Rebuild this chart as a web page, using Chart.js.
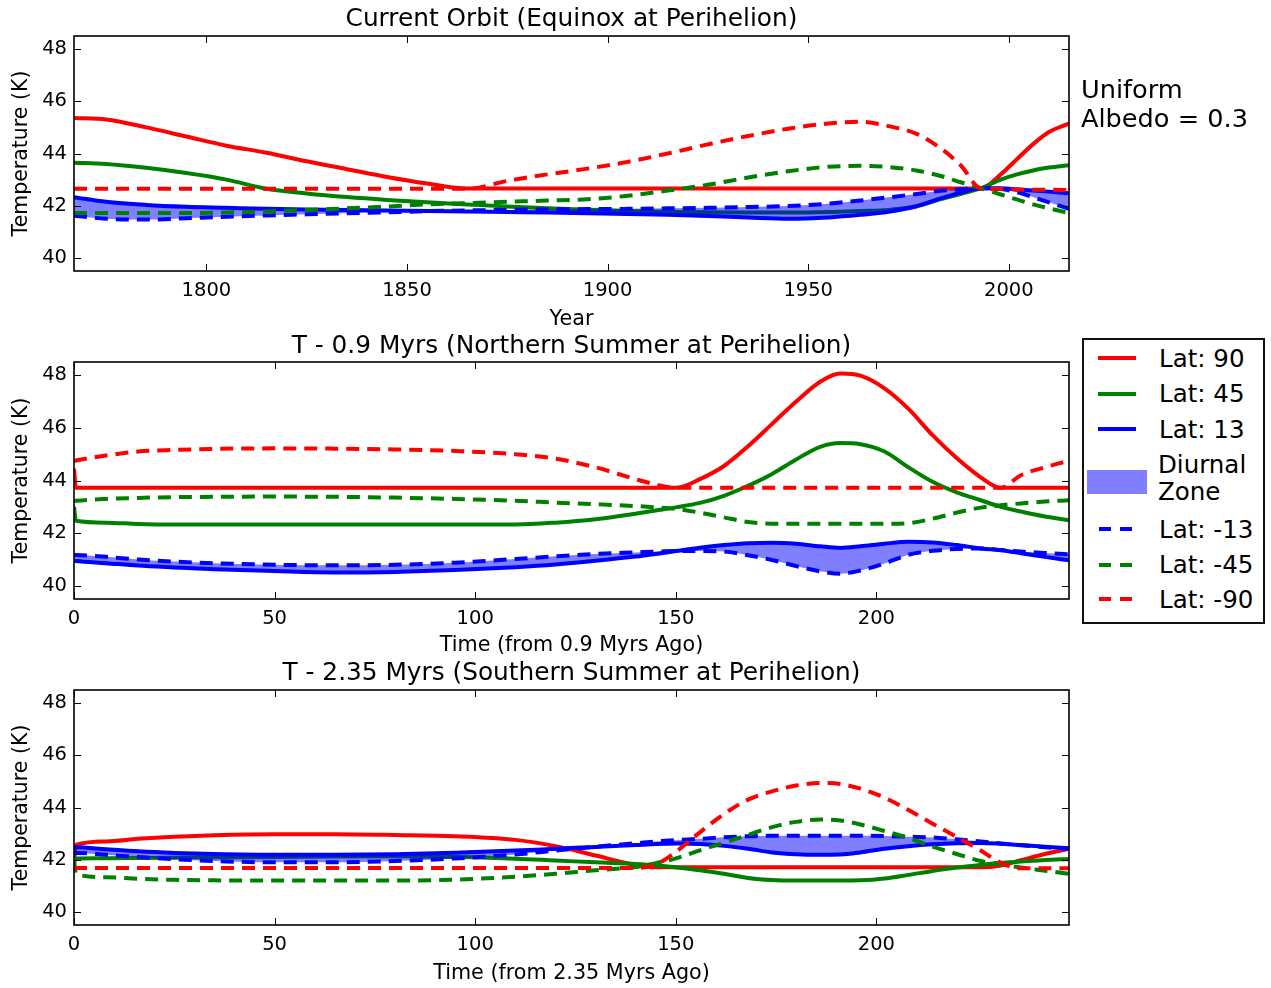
<!DOCTYPE html>
<html>
<head>
<meta charset="utf-8">
<script src="https://cdn.jsdelivr.net/npm/chart.js@4.4.1/dist/chart.umd.min.js"></script>
<style>
html,body{margin:0;padding:0;background:#fff;}
body{width:1271px;height:988px;position:relative;overflow:hidden;font-family:'DejaVu Sans',sans-serif;color:#000;}
canvas{position:absolute;left:0;}
.ttl{position:absolute;left:74px;width:995px;text-align:center;font-size:24.8px;line-height:28px;white-space:nowrap;}
.note{position:absolute;left:1081px;top:75px;font-size:25.6px;line-height:29px;white-space:nowrap;}
#legend{position:absolute;left:1082px;top:338px;width:183px;height:286px;box-sizing:border-box;border:2px solid #111;background:#fff;}
.lt{position:absolute;left:1159px;font-size:24.5px;line-height:28px;white-space:nowrap;}
.hl{position:absolute;height:4px;}
.patch{position:absolute;left:1087px;top:470px;width:60px;height:24px;background:rgba(0,0,255,0.5);}
</style>
</head>
<body>
<script>
// ---------- data ----------
const yTicks = [40, 42, 44, 46, 48];
const yearTicks = [1800, 1850, 1900, 1950, 2000];
const timeTicks = [0, 50, 100, 150, 200];

const seriesLabels = ['Lat: 90', 'Lat: 45', 'Lat: 13', 'Lat: -13', 'Lat: -45', 'Lat: -90'];

// Panel 1: Current Orbit
const yearGrid = [1767, 1775, 1785, 1795, 1805, 1815, 1825, 1835, 1845, 1855, 1865, 1875, 1885, 1895, 1905,
                  1915, 1925, 1935, 1945, 1955, 1963, 1970, 1977, 1983, 1988, 1993, 1998, 2002, 2006, 2010, 2015];
const p1Lat90  = [45.36, 45.3, 45.0, 44.65, 44.3, 44.03, 43.7, 43.4, 43.1, 42.85, 42.66, 42.66, 42.66, 42.66, 42.66,
                  42.66, 42.66, 42.66, 42.66, 42.66, 42.66, 42.66, 42.66, 42.66, 42.66, 42.66, 43.2, 43.78, 44.35, 44.82, 45.15];
const p1Lat45  = [43.65, 43.6, 43.45, 43.25, 43.0, 42.65, 42.47, 42.33, 42.22, 42.13, 42.05, 41.97, 41.9, 41.85, 41.8,
                  41.77, 41.75, 41.74, 41.74, 41.76, 41.8, 41.84, 41.98, 42.25, 42.45, 42.67, 43.0, 43.2, 43.35, 43.46, 43.55];
const p1Lat13  = [42.33, 42.15, 42.03, 41.96, 41.92, 41.88, 41.86, 41.84, 41.82, 41.8, 41.78, 41.76, 41.74, 41.71, 41.68,
                  41.65, 41.61, 41.55, 41.5, 41.55, 41.65, 41.77, 41.98, 42.28, 42.5, 42.67, 42.67, 42.63, 42.58, 42.54, 42.48];
const p1LatM13 = [41.62, 41.5, 41.47, 41.52, 41.58, 41.63, 41.67, 41.71, 41.75, 41.79, 41.82, 41.84, 41.86, 41.87, 41.88,
                  41.9, 41.92, 41.95, 41.99, 42.08, 42.2, 42.32, 42.45, 42.57, 42.63, 42.67, 42.64, 42.52, 42.33, 42.13, 41.88];
const p1LatM45 = [41.72, 41.72, 41.72, 41.72, 41.74, 41.78, 41.84, 41.9, 41.97, 42.05, 42.1, 42.15, 42.2, 42.25, 42.38,
                  42.58, 42.8, 43.08, 43.32, 43.49, 43.53, 43.48, 43.35, 43.14, 42.9, 42.67, 42.43, 42.24, 42.05, 41.9, 41.72];
const p1LatM90 = [42.65, 42.65, 42.65, 42.65, 42.65, 42.65, 42.65, 42.65, 42.65, 42.65, 42.65, 42.95, 43.2, 43.42, 43.68,
                  44.0, 44.35, 44.67, 44.95, 45.15, 45.22, 45.05, 44.75, 44.2, 43.55, 42.67, 42.64, 42.62, 42.61, 42.61, 42.6];

// Panels 2 and 3: time since epoch
const timeGrid = [0, 0.5, 8, 16, 25, 35, 50, 65, 80, 95, 110, 120, 130, 140, 145, 150, 156,
                  162, 168, 174, 180, 186, 191, 196, 202, 208, 214, 220, 226, 231, 236, 242, 248];

// Panel 2: T - 0.9 Myrs
const p2Lat90  = [44.45, 43.72, 43.72, 43.72, 43.72, 43.72, 43.72, 43.72, 43.72, 43.72, 43.72, 43.72, 43.72, 43.72, 43.72, 43.72, 44.05,
                  44.55, 45.3, 46.15, 47.0, 47.75, 48.06, 47.98, 47.5, 46.72, 45.72, 44.85, 44.12, 43.72, 43.72, 43.72, 43.72];
const p2Lat45  = [43.0, 42.47, 42.4, 42.35, 42.33, 42.33, 42.33, 42.33, 42.33, 42.33, 42.33, 42.4, 42.53, 42.74, 42.86, 42.98, 43.15,
                  43.42, 43.8, 44.25, 44.8, 45.28, 45.42, 45.38, 45.1, 44.5, 43.95, 43.55, 43.25, 43.0, 42.82, 42.63, 42.49];
const p2Lat13  = [40.95, 40.94, 40.86, 40.77, 40.7, 40.63, 40.56, 40.51, 40.53, 40.6, 40.71, 40.81, 40.95, 41.11, 41.21, 41.32, 41.45,
                  41.55, 41.62, 41.64, 41.6, 41.5, 41.44, 41.5, 41.6, 41.67, 41.65, 41.55, 41.42, 41.35, 41.24, 41.1, 40.97];
const p2LatM13 = [41.17, 41.17, 41.1, 41.0, 40.92, 40.86, 40.8, 40.78, 40.8, 40.88, 41.02, 41.12, 41.21, 41.27, 41.3, 41.32, 41.32,
                  41.3, 41.16, 40.98, 40.75, 40.55, 40.46, 40.58, 40.85, 41.18, 41.33, 41.4, 41.42, 41.36, 41.3, 41.25, 41.2];
const p2LatM45 = [43.22, 43.23, 43.3, 43.34, 43.37, 43.38, 43.39, 43.38, 43.35, 43.3, 43.23, 43.16, 43.1, 43.03, 42.98, 42.92, 42.78,
                  42.6, 42.42, 42.36, 42.36, 42.36, 42.36, 42.36, 42.36, 42.38, 42.55, 42.78, 42.97, 43.06, 43.13, 43.2, 43.25];
const p2LatM90 = [44.74, 44.76, 44.95, 45.1, 45.16, 45.2, 45.22, 45.21, 45.18, 45.12, 45.0, 44.83, 44.5, 44.05, 43.85, 43.72, 43.72,
                  43.72, 43.72, 43.72, 43.72, 43.72, 43.72, 43.72, 43.72, 43.72, 43.72, 43.72, 43.72, 43.72, 44.2, 44.5, 44.75];

// Panel 3: T - 2.35 Myrs
const p3Lat90  = [41.75, 42.57, 42.7, 42.8, 42.88, 42.94, 42.98, 42.98, 42.95, 42.9, 42.76, 42.52, 42.16, 41.8, 41.71, 41.71, 41.71,
                  41.71, 41.71, 41.71, 41.71, 41.71, 41.71, 41.71, 41.71, 41.71, 41.71, 41.71, 41.71, 41.78, 41.98, 42.22, 42.42];
const p3Lat45  = [42.05, 42.05, 42.06, 42.07, 42.08, 42.09, 42.1, 42.12, 42.13, 42.1, 42.04, 41.97, 41.9, 41.84, 41.79, 41.71, 41.6,
                  41.46, 41.3, 41.22, 41.2, 41.2, 41.2, 41.21, 41.28, 41.42, 41.57, 41.7, 41.8, 41.88, 41.93, 41.99, 42.03];
const p3Lat13  = [42.48, 42.48, 42.4, 42.32, 42.26, 42.22, 42.19, 42.19, 42.21, 42.27, 42.35, 42.42, 42.49, 42.56, 42.6, 42.62, 42.6,
                  42.53, 42.42, 42.28, 42.21, 42.19, 42.2, 42.28, 42.42, 42.52, 42.59, 42.63, 42.64, 42.61, 42.56, 42.5, 42.44];
const p3LatM13 = [42.26, 42.26, 42.19, 42.1, 42.02, 41.95, 41.9, 41.9, 41.95, 42.05, 42.2, 42.35, 42.5, 42.63, 42.7, 42.75, 42.8,
                  42.86, 42.9, 42.92, 42.92, 42.92, 42.92, 42.92, 42.91, 42.88, 42.85, 42.78, 42.7, 42.62, 42.55, 42.48, 42.41];
const p3LatM45 = [42.0, 41.45, 41.33, 41.27, 41.23, 41.21, 41.2, 41.2, 41.2, 41.24, 41.35, 41.46, 41.6, 41.72, 41.87, 42.05, 42.36,
                  42.65, 42.95, 43.25, 43.45, 43.54, 43.5, 43.35, 43.1, 42.83, 42.5, 42.22, 41.95, 41.82, 41.7, 41.58, 41.46];
const p3LatM90 = [41.68, 41.68, 41.68, 41.68, 41.68, 41.68, 41.68, 41.68, 41.68, 41.68, 41.68, 41.68, 41.68, 41.68, 41.82, 42.3, 43.05,
                  43.75, 44.3, 44.62, 44.84, 44.94, 44.9, 44.72, 44.38, 43.9, 43.38, 42.87, 42.35, 41.88, 41.67, 41.67, 41.67];

// ---------- styling ----------
const seriesColors = ['#ff0000', '#008000', '#0000ff', '#0000ff', '#008000', '#ff0000'];
const seriesDashed = [false, false, false, true, true, true];
const FONT = "'DejaVu Sans', sans-serif";

const framePlugin = {
  id: 'frame',
  afterDatasetsDraw(chart) {
    const {ctx, chartArea: a, scales: {x, y}} = chart;
    ctx.save();
    ctx.strokeStyle = '#000';
    ctx.lineWidth = 1;
    ctx.beginPath();
    x.ticks.forEach(t => {
      const px = Math.round(x.getPixelForValue(t.value)) + 0.5;
      ctx.moveTo(px, a.bottom); ctx.lineTo(px, a.bottom - 7);
      ctx.moveTo(px, a.top); ctx.lineTo(px, a.top + 7);
    });
    y.ticks.forEach(t => {
      const py = Math.round(y.getPixelForValue(t.value)) + 0.5;
      ctx.moveTo(a.left, py); ctx.lineTo(a.left + 7, py);
      ctx.moveTo(a.right, py); ctx.lineTo(a.right - 7, py);
    });
    ctx.stroke();
    ctx.lineWidth = 1.6;
    ctx.strokeRect(a.left, a.top, a.right - a.left, a.bottom - a.top);
    ctx.restore();
  }
};

function makeDatasets(grid, series) {
  return series.map((vals, i) => ({
    label: seriesLabels[i],
    data: grid.map((xv, k) => ({x: xv, y: vals[k]})),
    borderColor: seriesColors[i],
    borderWidth: 4,
    borderDash: seriesDashed[i] ? [13, 8] : [],
    borderJoinStyle: 'round',
    pointRadius: 0,
    pointHoverRadius: 0,
    cubicInterpolationMode: 'monotone',
    fill: i === 2 ? 3 : false,
    backgroundColor: 'rgba(0,0,255,0.5)',
    order: 6 - i,
    clip: 0
  }));
}

function makePanel(top, height, padTop, hx, grid, series, xmin, xmax, xt, xlabel) {
  const c = document.createElement('canvas');
  c.width = 1271; c.height = height;
  c.style.top = top + 'px';
  c.style.width = '1271px'; c.style.height = height + 'px';
  document.body.appendChild(c);
  new Chart(c, {
    type: 'line',
    data: {datasets: makeDatasets(grid, series)},
    plugins: [framePlugin],
    options: {
      responsive: false,
      animation: false,
      devicePixelRatio: 1,
      layout: {padding: {left: 0, right: 202, top: padTop, bottom: 0}},
      plugins: {legend: {display: false}, title: {display: false}, tooltip: {enabled: false}},
      events: [],
      scales: {
        x: {
          type: 'linear', min: xmin, max: xmax,
          afterBuildTicks: s => { s.ticks = xt.map(v => ({value: v})); },
          afterFit: s => { s.height = hx; },
          grid: {display: false, drawTicks: false},
          border: {display: false},
          ticks: {font: {family: FONT, size: 19.5}, color: '#000', padding: 8, maxRotation: 0, autoSkip: false,
                  callback: v => String(v)},
          title: {display: true, text: xlabel, font: {family: FONT, size: 20.7}, color: '#000', padding: {top: 0, bottom: 0}}
        },
        y: {
          type: 'linear', min: 39.5, max: 48.5,
          afterBuildTicks: s => { s.ticks = yTicks.map(v => ({value: v})); },
          afterFit: s => { s.width = 74; },
          grid: {display: false, drawTicks: false},
          border: {display: false},
          ticks: {font: {family: FONT, size: 19.5}, color: '#000', padding: 7, autoSkip: false,
                  callback: v => String(v)},
          title: {display: true, text: 'Temperature (K)', font: {family: FONT, size: 20.5}, color: '#000', padding: {top: 9, bottom: 0}}
        }
      }
    }
  });
}

makePanel(0, 332, 36, 61, yearGrid, [p1Lat90, p1Lat45, p1Lat13, p1LatM13, p1LatM45, p1LatM90], 1767, 2015, yearTicks, 'Year');
makePanel(332, 326, 30, 59, timeGrid, [p2Lat90, p2Lat45, p2Lat13, p2LatM13, p2LatM45, p2LatM90], 0, 248, timeTicks, 'Time (from 0.9 Myrs Ago)');
makePanel(658, 328, 32, 61, timeGrid, [p3Lat90, p3Lat45, p3Lat13, p3LatM13, p3LatM45, p3LatM90], 0, 248, timeTicks, 'Time (from 2.35 Myrs Ago)');
</script>

<div class="ttl" style="top:4px;">Current Orbit (Equinox at Perihelion)</div>
<div class="ttl" style="top:331px;">T - 0.9 Myrs (Northern Summer at Perihelion)</div>
<div class="ttl" style="top:658px;">T - 2.35 Myrs (Southern Summer at Perihelion)</div>

<div class="note">Uniform<br>Albedo = 0.3</div>

<div id="legend"></div>
<div class="hl" style="left:1098px;top:356px;width:38px;background:#ff0000;"></div>
<div class="lt" style="top:345px;">Lat: 90</div>
<div class="hl" style="left:1098px;top:392px;width:38px;background:#008000;"></div>
<div class="lt" style="top:380px;">Lat: 45</div>
<div class="hl" style="left:1098px;top:427px;width:38px;background:#0000ff;"></div>
<div class="lt" style="top:416px;">Lat: 13</div>
<div class="patch"></div>
<div class="lt" style="top:451px;left:1158px;">Diurnal</div>
<div class="lt" style="top:478px;left:1158px;">Zone</div>
<div class="hl" style="left:1099px;top:527px;width:12px;background:#0000ff;"></div>
<div class="hl" style="left:1120px;top:527px;width:12px;background:#0000ff;"></div>
<div class="lt" style="top:516px;">Lat: -13</div>
<div class="hl" style="left:1099px;top:563px;width:12px;background:#008000;"></div>
<div class="hl" style="left:1120px;top:563px;width:12px;background:#008000;"></div>
<div class="lt" style="top:551px;">Lat: -45</div>
<div class="hl" style="left:1099px;top:597px;width:12px;background:#ff0000;"></div>
<div class="hl" style="left:1120px;top:597px;width:12px;background:#ff0000;"></div>
<div class="lt" style="top:586px;">Lat: -90</div>
</body>
</html>
